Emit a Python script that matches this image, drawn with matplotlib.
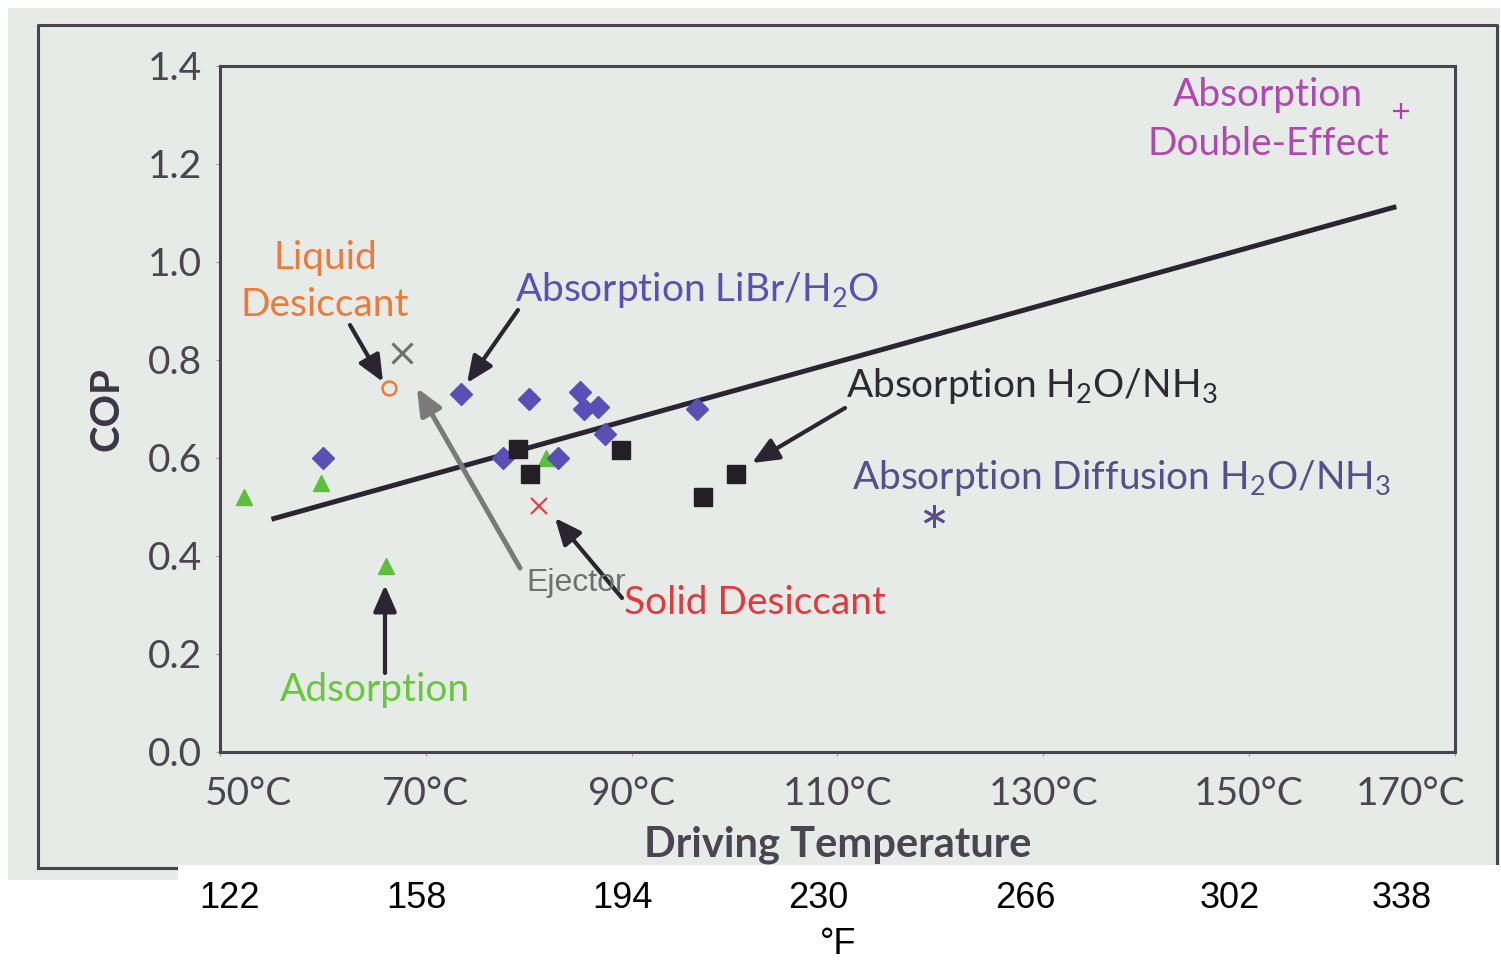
import matplotlib
matplotlib.use("Agg")
import matplotlib.pyplot as plt
from matplotlib.patches import Rectangle
from matplotlib.lines import Line2D
import matplotlib.transforms as mtransforms

plt.rcParams['font.family'] = ['Lato', 'DejaVu Sans']
plt.rcParams['mathtext.fontset'] = 'custom'
plt.rcParams['mathtext.rm'] = 'Lato'
plt.rcParams['mathtext.it'] = 'Lato:italic'
plt.rcParams['mathtext.bf'] = 'Lato:bold'
plt.rcParams['mathtext.default'] = 'regular'

# ---------------- data ----------------
adsorption_T = [52.3, 59.8, 66.1, 81.7]
adsorption_cop = [0.52, 0.55, 0.38, 0.60]

libr_T = [60.0, 73.4, 80.0, 85.0, 85.4, 86.7, 87.4, 77.5, 82.8, 96.3]
libr_cop = [0.60, 0.73, 0.72, 0.735, 0.70, 0.705, 0.65, 0.60, 0.60, 0.70]

nh3_T = [79.0, 80.1, 89.0, 96.9, 100.1]
nh3_cop = [0.618, 0.567, 0.616, 0.52, 0.567]

liquid_T = [66.4]
liquid_cop = [0.743]

ejector_T = [67.7]
ejector_cop = [0.815]

solid_T = [81.0]
solid_cop = [0.503]

diffusion_T = [119.4]
diffusion_cop = [0.481]

double_T = [164.8]
double_cop = [1.308]

trend_T = [55.0, 164.3]
trend_cop = [0.475, 1.113]

y_ticks = [0.0, 0.2, 0.4, 0.6, 0.8, 1.0, 1.2, 1.4]
y_labels = ['0.0', '0.2', '0.4', '0.6', '0.8', '1.0', '1.2', '1.4']
x_ticks = [50, 70, 90, 110, 130, 150, 170]
x_labels = ['50°C', '70°C', '90°C', '110°C', '130°C', '150°C', '170°C']
f_labels = ['122', '158', '194', '230', '266', '302', '338']
f_pos_px = [230, 416, 622, 818, 1025, 1230, 1402]

# ---------------- figure ----------------
W, H = 1501, 960
fig = plt.figure(figsize=(W / 100, H / 100), dpi=100)
fig.patch.set_facecolor('white')

def fx(px):
    return px / W

def fy(py):
    return 1 - py / H

scan_col = '#e6ebe8'
frame_col = '#4a444e'
text_col = '#4a4550'

# scanned background
fig.patches.append(Rectangle((fx(8), fy(880)), fx(1500) - fx(8), fy(8) - fy(880),
                             transform=fig.transFigure, facecolor=scan_col,
                             edgecolor='none', zorder=-3))
# outer frame
fig.lines.append(Line2D([fx(38), fx(38), fx(1497), fx(1497)],
                        [fy(868), fy(25), fy(25), fy(868)],
                        transform=fig.transFigure, color=frame_col, lw=2.2, zorder=-2))
fig.lines.append(Line2D([fx(38), fx(1497)], [fy(868), fy(868)],
                        transform=fig.transFigure, color=frame_col, lw=2.2, zorder=-2))
# white strip for °F labels
fig.patches.append(Rectangle((fx(178), 0), 1 - fx(178), fy(865),
                             transform=fig.transFigure, facecolor='white',
                             edgecolor='none', zorder=-1))

ax = fig.add_axes([fx(220), fy(752), fx(1455) - fx(220), fy(66) - fy(752)])
ax.set_zorder(1)
ax.set_facecolor(scan_col)
ax.set_xlim(50, 170)
ax.set_ylim(0, 1.4)
for s in ax.spines.values():
    s.set_color(frame_col)
    s.set_linewidth(2.2)

ax.set_yticks(y_ticks)
ax.set_yticklabels(y_labels, fontsize=28, color=text_col)
ax.set_xticks(x_ticks)
ax.set_xticklabels(x_labels, fontsize=28, color=text_col)
ax.tick_params(axis='both', length=3, width=0.8, color='#999999')
ax.tick_params(axis='y', pad=10)
ax.tick_params(axis='x', pad=14)
# shift first/last x tick labels like the original
labs = ax.get_xticklabels()
labs[0].set_transform(labs[0].get_transform() +
                      mtransforms.ScaledTranslation(28 / 100, 0, fig.dpi_scale_trans))
labs[-1].set_transform(labs[-1].get_transform() +
                       mtransforms.ScaledTranslation(-44 / 100, 0, fig.dpi_scale_trans))

ax.set_ylabel('COP', fontsize=29, fontweight='bold', color='#3c3646', labelpad=16)
ax.set_xlabel('Driving Temperature', fontsize=30, fontweight='bold', color='#4a4550', labelpad=10)

# trend line
ax.plot(trend_T, trend_cop, color='#2a2530', lw=3.6, solid_capstyle='butt', zorder=3)

# markers
ax.plot(adsorption_T, adsorption_cop, '^', color='#5cc03a', ms=12, mec='#5cc03a', ls='none', zorder=4)
ax.plot(libr_T, libr_cop, 'D', color='#5a4fb4', ms=11, ls='none', zorder=4)
ax.plot(nh3_T, nh3_cop, 's', color='#231f25', ms=13.5, ls='none', zorder=4)
ax.plot(liquid_T, liquid_cop, 'o', mfc='none', mec='#ee7a3a', mew=1.8, ms=10, ls='none', zorder=4)
ax.plot(ejector_T, ejector_cop, 'x', color='#6e6e6e', mew=2.2, ms=14, ls='none', zorder=4)
ax.plot(solid_T, solid_cop, 'x', color='#e8403e', mew=1.6, ms=12, ls='none', zorder=4)
ax.plot(diffusion_T, diffusion_cop, marker=(6, 2, 0), color='#5a4f8a', mew=2.0, ms=16, ls='none', zorder=4)
ax.plot(double_T, double_cop, '+', color='#b040b0', mew=1.6, ms=12, ls='none', zorder=4)

# annotation helper (pixel coords of the image -> data coords)
def px2d(px, py):
    x0, x1 = 220, 1455
    y0, y1 = 752, 66
    return (50 + (px - x0) / (x1 - x0) * 120, (y0 - py) / (y0 - y1) * 1.4)

def arrow(p_from, p_to, color='#2a2530', lw=3.0):
    ax.annotate('', xy=px2d(*p_to), xytext=px2d(*p_from),
                arrowprops=dict(arrowstyle='-|>,head_length=1.6,head_width=0.7',
                                color=color, lw=lw, shrinkA=0, shrinkB=0),
                zorder=5, annotation_clip=False)

def label(px, py, s, color, size=28, ha='center', family=None):
    kw = {}
    if family:
        kw['family'] = family
    ax.text(*px2d(px, py), s, color=color, fontsize=size, ha=ha, va='center', zorder=6, **kw)

label(325, 258, 'Liquid', '#ee7a3a')
label(325, 305, 'Desiccant', '#ee7a3a')
label(697, 290, 'Absorption LiBr/H$_2$O', '#5a4fb4')
label(1032, 386, 'Absorption H$_2$O/NH$_3$', '#2e2a34')
label(1122, 478, 'Absorption Diffusion H$_2$O/NH$_3$', '#55508c')
label(755, 603, 'Solid Desiccant', '#e4383a')
label(576, 583, 'Ejector', '#707070', size=23, family=['Liberation Sans', 'DejaVu Sans'])
label(375, 690, 'Adsorption', '#66c83a')
label(1268, 95, 'Absorption', '#b048b0')
label(1268, 144, 'Double-Effect', '#b048b0')

arrow((350, 325), (383, 382))
arrow((518, 310), (467, 383))
arrow((520, 568), (417, 388), color='#7a7a7a', lw=3.6)
arrow((622, 598), (555, 518))
arrow((845, 408), (752, 463))
arrow((385, 673), (385, 585))

# Fahrenheit labels
for p, s in zip(f_pos_px, f_labels):
    fig.text(fx(p), fy(898), s, fontsize=26, ha='center', va='center',
             family=['Liberation Sans', 'DejaVu Sans'], color='black', zorder=5)
fig.text(fx(838), fy(944), '°F', fontsize=26, ha='center', va='center',
         family=['Liberation Sans', 'DejaVu Sans'], color='black', zorder=5)

fig.savefig('out.png', dpi=100, facecolor='white')
